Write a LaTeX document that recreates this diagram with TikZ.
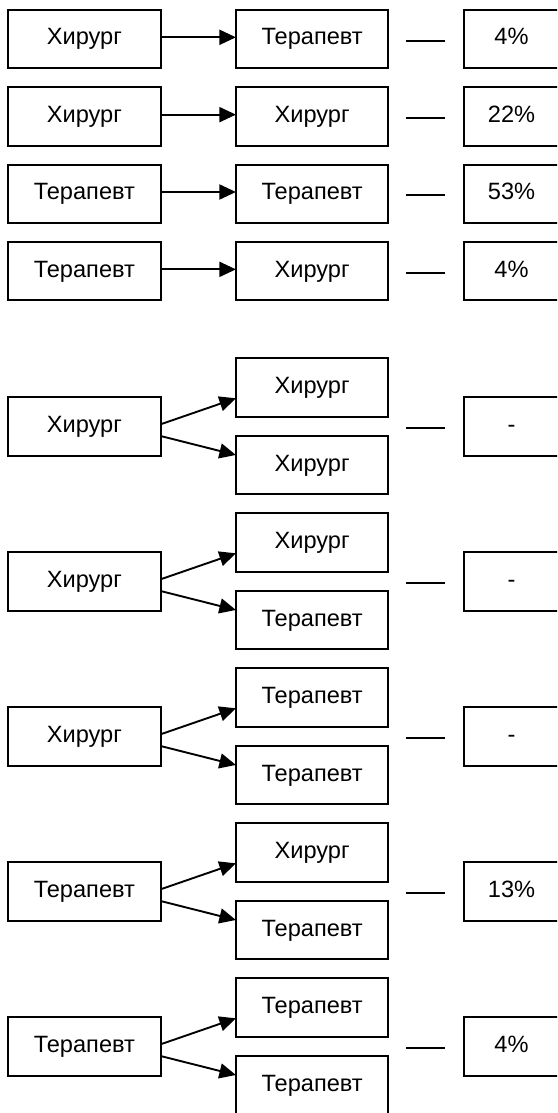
\documentclass[tikz,border=0pt]{standalone}
\usepackage{fontspec}
\setmainfont{Liberation Sans}
\usetikzlibrary{arrows.meta}
\begin{document}
\begin{tikzpicture}[x=1pt,y=-1pt,
  cell/.style={draw, line width=1.9pt, minimum width=152.5pt, minimum height=58.3pt,
    inner sep=0pt, outer sep=0pt, text height=17pt, text depth=5.4pt,
    font=\fontsize{23.6}{26}\selectfont},
  share/.style={cell, minimum width=95pt},
  link/.style={line width=1.9pt, -{Triangle[length=16.5pt,width=15pt]}},
  tie/.style={line width=1.9pt}]
\useasboundingbox (0,0) rectangle (557,1113);
\fill[white] (0,0) rectangle (557,1113);
\clip (0,0) rectangle (557,1113);

% one-to-one transitions
\foreach \r/\a/\b/\c in {0/Хирург/Терапевт/4\%, 1/Хирург/Хирург/22\%,
                         2/Терапевт/Терапевт/53\%, 3/Терапевт/Хирург/4\%}{
  \pgfmathsetmacro{\yc}{39.2+77.35*\r}
  \node[cell]  (l\r) at (84.35,\yc) {\a};
  \node[cell]  (m\r) at (312.15,\yc) {\b};
  \node[share] (p\r) at (511.5,\yc) {\c};
  \draw[link] ([yshift=1.9pt]l\r.east) -- ([yshift=1.9pt]m\r.west);
  \draw[tie] ([xshift=-58pt,yshift=-1.5pt]p\r.west) -- ([xshift=-19pt,yshift=-1.5pt]p\r.west);
}

% one-to-two transitions
\foreach \k/\a/\b/\c/\d in {0/Хирург/Хирург/Хирург/-, 1/Хирург/Хирург/Терапевт/-,
                            2/Хирург/Терапевт/Терапевт/-, 3/Терапевт/Хирург/Терапевт/13\%,
                            4/Терапевт/Терапевт/Терапевт/4\%}{
  \pgfmathsetmacro{\yc}{426.5+155*\k}
  \pgfmathsetmacro{\yu}{387.5+155*\k}
  \pgfmathsetmacro{\yd}{465.2+155*\k}
  \node[cell]  (g\k) at (84.35,\yc) {\a};
  \node[cell]  (u\k) at (312.15,\yu) {\b};
  \node[cell]  (d\k) at (312.15,\yd) {\c};
  \node[share] (q\k) at (511.5,\yc) {\d};
  \draw[link] ([yshift=2.2pt]g\k.east) -- ([yshift=-10.8pt]u\k.west);
  \draw[link] ([yshift=-9.5pt]g\k.east) -- ([yshift=10.2pt]d\k.west);
  \draw[tie] ([xshift=-58pt,yshift=-1.6pt]q\k.west) -- ([xshift=-19pt,yshift=-1.6pt]q\k.west);
}
\end{tikzpicture}
\end{document}
